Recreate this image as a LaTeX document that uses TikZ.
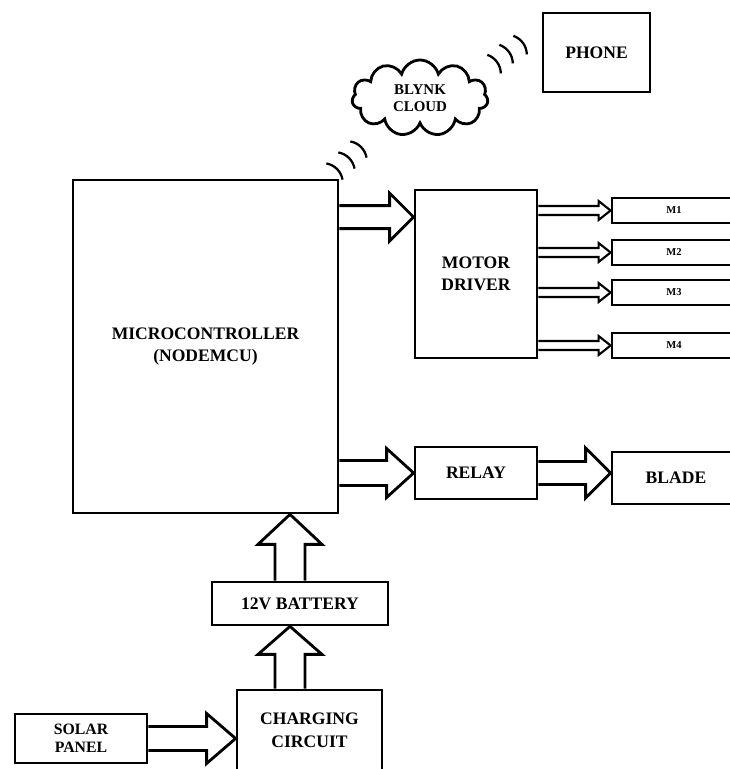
\documentclass[tikz,border=0pt]{standalone}
\usepackage{fontspec}
\setmainfont{Liberation Serif}
\usetikzlibrary{calc,shapes.symbols}

\tikzset{
  block/.style={draw, line width=1.6pt, align=center, inner sep=2pt,
    font=\fontsize{10}{12.5}\selectfont\bfseries},
  fatarrow/.style={draw, line width=1.6pt, line join=miter},
  wave/.style={line width=1.3pt},
}

% horizontal hollow arrow: tail x from #2, tip at #3
\newcommand{\hfat}[6][]{%
  \draw[fatarrow,#1] let \p1=#2, \p2=#3 in
    (\x1,\y2+#4) -- (\x2-#6,\y2+#4) -- (\x2-#6,\y2+#5) -- (\x2,\y2)
    -- (\x2-#6,\y2-#5) -- (\x2-#6,\y2-#4) -- (\x1,\y2-#4);
}
% vertical hollow arrow: from #2 up to the y of #3
\newcommand{\vfat}[6][]{%
  \draw[fatarrow,#1] let \p1=#2, \p2=#3 in
    (\x1-#4,\y1) -- (\x1-#4,\y2-#6) -- (\x1-#5,\y2-#6) -- (\x1,\y2)
    -- (\x1+#5,\y2-#6) -- (\x1+#4,\y2-#6) -- (\x1+#4,\y1);
}

\begin{document}
\begin{tikzpicture}[x=0.02cm, y=0.02cm]
  \clip (0,0) rectangle (730,769);

  % Blocks
  \node[block, minimum width=5.3cm, minimum height=6.66cm] (mcu) at (205.5,422.5)
    {MICROCONTROLLER\\(NODEMCU)};
  \node[block, minimum width=2.44cm, minimum height=3.36cm] (drv) at (476,495)
    {MOTOR\\DRIVER};
  \foreach \k/\y in {1/558.5, 2/516.5, 3/476.5, 4/423.5}
    \node[block, minimum width=2.48cm, minimum height=0.5cm,
      font=\fontsize{6}{7}\selectfont\bfseries] (m\k) at (674,\y) {M\k};
  \node[block, minimum width=2.44cm, minimum height=1.04cm] (relay) at (476,296) {RELAY};
  \node[block, minimum width=2.56cm, minimum height=1.04cm] (blade) at (676,291) {BLADE};
  \node[block, minimum width=2.14cm, minimum height=1.58cm] (phone) at (596.5,716.5) {PHONE};
  \node[cloud, draw, line width=1.6pt, cloud puffs=11, aspect=1.9, align=center,
    minimum width=2.72cm, minimum height=1.46cm,
    font=\fontsize{8.5}{10}\selectfont\bfseries] (cloud) at (420,671) {BLYNK\\CLOUD};
  \node[block, minimum width=3.52cm, minimum height=0.86cm] (bat) at (300,165.5) {12V BATTERY};
  \node[block, minimum width=2.9cm, minimum height=1.6cm,
    font=\fontsize{10}{13}\selectfont\bfseries] (chg) at (309.5,39) {CHARGING\\CIRCUIT};
  \node[block, minimum width=2.64cm, minimum height=0.98cm,
    font=\fontsize{9}{10}\selectfont\bfseries] (solar) at (81,30.5) {SOLAR\\PANEL};

  % Hollow arrows
  \hfat{(mcu.east)}{($(drv.north west)+(0,-28.5)$)}{0.23cm}{0.48cm}{0.48cm}
  \hfat{(mcu.east)}{(relay.west)}{0.25cm}{0.49cm}{0.54cm}
  \hfat{(relay.east)}{(relay.east -| blade.west)}{0.23cm}{0.5cm}{0.5cm}
  \foreach \k in {1,...,4}{
    \hfat[line width=1.2pt]{(drv.east)}{(m\k.west)}{0.09cm}{0.19cm}{0.24cm}
  }
  \vfat{($(bat.north)+(-10,0)$)}{(mcu.south)}{0.3cm}{0.64cm}{0.6cm}
  \vfat{($(chg.north)+(-19.5,0)$)}{(bat.south)}{0.3cm}{0.64cm}{0.56cm}
  \hfat{(solar.east)}{(solar.east -| chg.west)}{0.24cm}{0.5cm}{0.58cm}

  % Wireless waves
  \foreach \mx/\my in {337/600, 349/611, 361/622}
    \draw[wave] (\mx,\my) ++(225:20) ++(10:20) arc[start angle=10, end angle=80, radius=20];
  \foreach \mx/\my in {497/707, 509/717, 523/726}
    \draw[wave] (\mx,\my) ++(216:20) ++(1:20) arc[start angle=1, end angle=71, radius=20];
\end{tikzpicture}
\end{document}
